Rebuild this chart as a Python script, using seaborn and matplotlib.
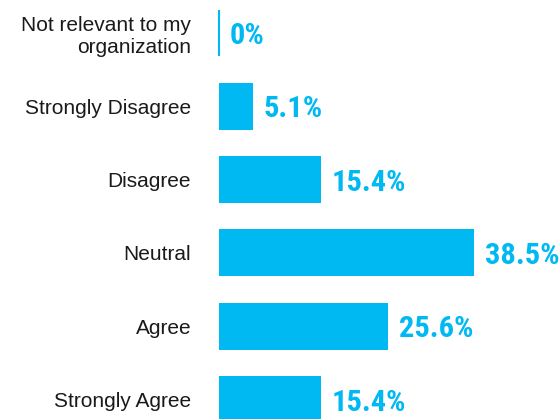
import matplotlib
matplotlib.use("Agg")
import matplotlib.pyplot as plt
from matplotlib import font_manager as fm
from matplotlib.textpath import TextPath
from matplotlib.font_manager import FontProperties
import seaborn as sns
import pandas as pd

# Survey responses (share of respondents, %)
categories = [
    "Not relevant to my\norganization",
    "Strongly Disagree",
    "Disagree",
    "Neutral",
    "Agree",
    "Strongly Agree",
]
values = [0, 5.1, 15.4, 38.5, 25.6, 15.4]

BAR_COLOR = "#00B9F2"
BAR_WIDTH = 0.64

sns.set_theme(style="white")
plt.rcParams["font.family"] = ["Liberation Sans", "DejaVu Sans"]


def condensed_family():
    """Return an installed condensed/narrow family for the value labels."""
    names = {f.name for f in fm.fontManager.ttflist}
    for n in ["Roboto Condensed", "Open Sans Condensed", "DejaVu Sans Condensed",
              "Liberation Sans Narrow", "Noto Sans Condensed", "Noto Sans Display"]:
        if n in names:
            return n
    for f in fm.fontManager.ttflist:
        if str(f.stretch) in ("condensed", "semi-condensed", "extra-condensed"):
            return f.name
    return "Liberation Sans"


label_family = condensed_family()
label_prop = FontProperties(family=label_family, weight="bold")
# size the value labels: widest label about 72 px, digits at most 24 px tall
probe_w = TextPath((0, 0), "38.5%", size=100, prop=label_prop).get_extents().width
probe_h = TextPath((0, 0), "0", size=100, prop=label_prop).get_extents().height
px = 0.72  # points per pixel at 100 dpi
label_size = min(100 * 72 * px / probe_w, 100 * 24 * px / probe_h)

df = pd.DataFrame({"category": categories, "value": values})

fig = plt.figure(figsize=(5.59, 4.19), dpi=100)
ax = fig.add_axes([219 / 559, 0, 340 / 559, 1])

sns.barplot(
    data=df, x="value", y="category", orient="h", errorbar=None,
    color=BAR_COLOR, saturation=1, width=BAR_WIDTH, linewidth=0, ax=ax,
)

# zero-valued answers still get a thin marker line at the baseline
for i, v in enumerate(values):
    if v == 0:
        ax.plot([v, v], [i - BAR_WIDTH / 2, i + BAR_WIDTH / 2],
                color=BAR_COLOR, lw=1.5, solid_capstyle="butt",
                clip_on=False, zorder=5)

ax.set_xlim(0, 51.4)
ax.set_ylim(5.266, -0.45)

for i, v in enumerate(values):
    ax.annotate(
        f"{v:g}%", xy=(v, i), xytext=(8, 0), textcoords="offset points",
        ha="left", va="center_baseline", color=BAR_COLOR,
        fontsize=label_size, fontweight="bold",
        family=[label_family, "DejaVu Sans"],
    )

ax.set_xlabel("")
ax.set_ylabel("")
ax.set_xticks([])
ax.tick_params(axis="y", length=0, pad=20, labelsize=15, labelcolor="#1a1a1a")
for s in ax.spines.values():
    s.set_visible(False)

fig.savefig("out.png", dpi=100)
